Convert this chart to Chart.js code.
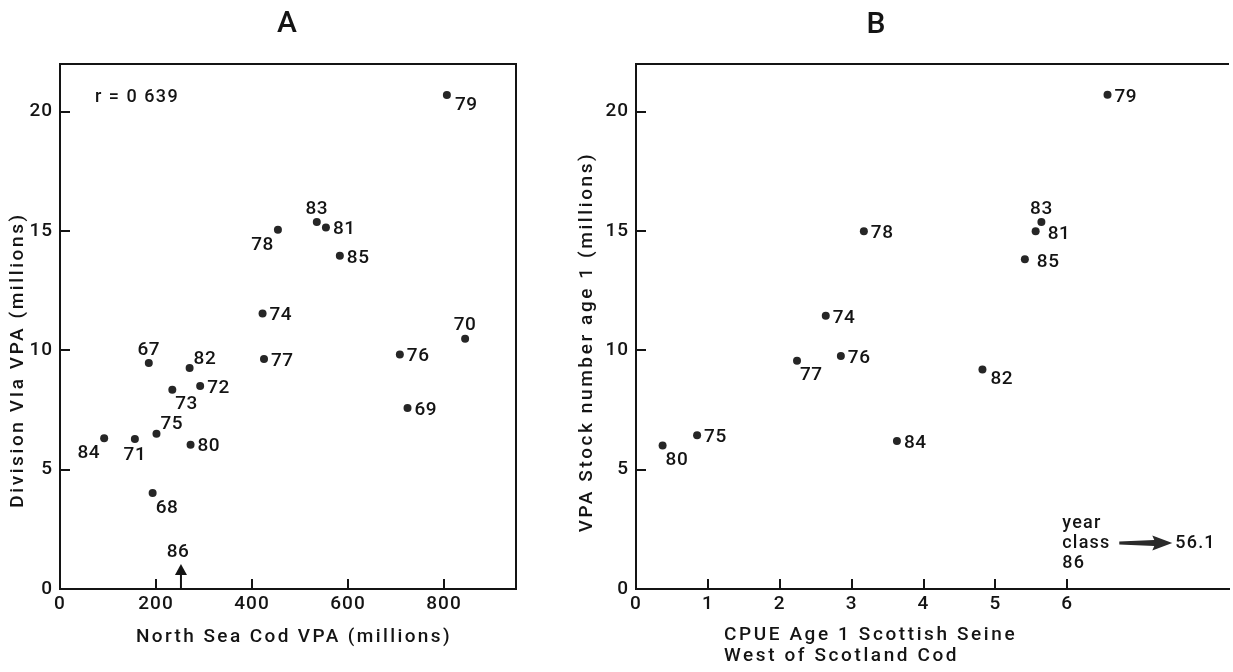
<!DOCTYPE html>
<html>
<head>
<meta charset="utf-8">
<title>Cod year-class strength: North Sea vs West of Scotland</title>
<script src="https://cdn.jsdelivr.net/npm/chart.js@4.4.1/dist/chart.umd.min.js"></script>
<style>
  html, body { margin: 0; padding: 0; background: #fff; }
  #wrap { position: relative; width: 1233px; height: 672px; overflow: hidden; background: #fff; }
  canvas { position: absolute; top: 0; }
  #chartA { left: 0; }
  #chartB { left: 560px; }
</style>
</head>
<body>
<div id="wrap">
  <canvas id="chartA" width="560" height="672"></canvas>
  <canvas id="chartB" width="673" height="672"></canvas>
</div>
<script>
// ---- Panel A: North Sea cod VPA (x) against Division VIa VPA (y), by year class ----
const yearsA        = ['79', '83', '81', '78', '85', '74', '77', '67', '82', '72', '73', '75', '84', '71', '80', '68', '70', '76', '69'];
const northSeaVPA   = [806, 535, 554, 454, 583, 422, 425, 185, 270, 292, 234, 201, 92, 156, 272, 193, 844, 708, 724];
const divisionVIa   = [20.7, 15.38, 15.15, 15.05, 13.96, 11.55, 9.64, 9.47, 9.26, 8.51, 8.35, 6.51, 6.32, 6.29, 6.05, 4.02, 10.49, 9.83, 7.59];
const labelSideA    = ['rb', 'a', 'r', 'lb', 'r', 'r', 'r', 'a', 'ra', 'r', 'br', 'ra', 'lb', 'b', 'r', 'br', 'a', 'r', 'r'];
const correlationA  = 'r = 0 639';
const yearClass86A  = 252;          // 1986 year class, North Sea VPA only
const xTicksA       = [0, 200, 400, 600, 800];

// ---- Panel B: West of Scotland CPUE at age 1 (x) against VPA stock number age 1 (y) ----
const yearsB        = ['79', '83', '81', '85', '82', '78', '74', '76', '77', '75', '80', '84'];
const cpueAge1      = [6.56, 5.64, 5.56, 5.41, 4.82, 3.17, 2.64, 2.85, 2.24, 0.85, 0.37, 3.63];
const stockAge1     = [20.71, 15.38, 14.99, 13.82, 9.2, 14.99, 11.45, 9.76, 9.57, 6.44, 6.01, 6.2];
const labelSideB    = ['r', 'a', 'r2', 'r2', 'rb', 'r', 'r', 'r', 'br', 'r', 'br', 'r'];
const yearClass86B  = '56.1';       // 1986 year class CPUE, far off the axis
const xTicksB       = [0, 1, 2, 3, 4, 5, 6];

const yTicks        = [0, 5, 10, 15, 20];

// Where a year-class label sits relative to its dot
const PLACE = {
  r:  { align: 'left',   dx: 7,  dy: 2 },
  r2: { align: 'left',   dx: 12, dy: 3 },
  rb: { align: 'left',   dx: 8,  dy: 10 },
  ra: { align: 'left',   dx: 4,  dy: -9 },
  a:  { align: 'center', dx: 0,  dy: -13 },
  b:  { align: 'center', dx: 0,  dy: 16 },
  br: { align: 'left',   dx: 3,  dy: 15 },
  lb: { align: 'right',  dx: -4, dy: 15 }
};

const FONT = "Roboto, 'Liberation Sans', Arial, sans-serif";
const WEIGHT = '500 ';
const INK = '#141414';
const TICK_LEN = 10;

function linearAxis(min, max, ticks, size, horizontal) {
  return {
    type: 'linear',
    min: min,
    max: max,
    afterBuildTicks: s => { s.ticks = ticks.map(v => ({ value: v })); },
    afterFit: s => { if (horizontal) { s.height = size; } else { s.width = size; } },
    grid: { display: false, drawTicks: false },
    border: { display: true, color: INK, width: 2 },
    ticks: {
      color: INK,
      font: { family: FONT, size: 19, weight: '500' },
      padding: horizontal ? 4 : 7,
      maxRotation: 0,
      callback: v => String(v)
    }
  };
}

function points(xs, ys) {
  return xs.map((x, i) => ({ x: x, y: ys[i] }));
}

// Tick marks point into the plot area
function drawInnerTicks(chart, xValues, yValues) {
  const ctx = chart.ctx;
  const ca = chart.chartArea;
  const xs = chart.scales.x, ys = chart.scales.y;
  ctx.save();
  ctx.fillStyle = INK;
  xValues.forEach(v => {
    const px = Math.round(xs.getPixelForValue(v));
    ctx.fillRect(px - 1, ca.bottom - TICK_LEN, 2, TICK_LEN);
  });
  yValues.forEach(v => {
    const py = Math.round(ys.getPixelForValue(v));
    ctx.fillRect(ca.left, py - 1, TICK_LEN, 2);
  });
  ctx.restore();
}

function drawPointLabels(chart, names, sides) {
  const ctx = chart.ctx;
  const meta = chart.getDatasetMeta(0);
  ctx.save();
  ctx.font = WEIGHT + '19px ' + FONT;
  ctx.fillStyle = INK;
  ctx.textBaseline = 'middle';
  ctx.letterSpacing = '0.5px';
  meta.data.forEach((pt, i) => {
    const p = PLACE[sides[i]];
    ctx.textAlign = p.align;
    ctx.fillText(names[i], pt.x + p.dx, pt.y + p.dy);
  });
  ctx.restore();
}

function drawText(ctx, text, x, y, opts) {
  ctx.save();
  ctx.font = WEIGHT + (opts.size || 19) + 'px ' + FONT;
  ctx.fillStyle = INK;
  ctx.textAlign = opts.align || 'center';
  ctx.textBaseline = 'middle';
  ctx.letterSpacing = (opts.spacing || 0) + 'px';
  ctx.translate(x, y);
  if (opts.rotate) ctx.rotate(opts.rotate);
  ctx.fillText(text, 0, 0);
  ctx.restore();
}

// Tick labels get a little tracking
const tracking = {
  id: 'tracking',
  beforeDraw(chart) { chart.ctx.letterSpacing = '1px'; },
  afterDraw(chart) { chart.ctx.letterSpacing = '0px'; }
};

const panelA = {
  id: 'panelA',
  afterDraw(chart) {
    const ctx = chart.ctx;
    const ca = chart.chartArea;
    const xs = chart.scales.x;

    // closing top and right sides of the frame
    ctx.save();
    ctx.strokeStyle = INK;
    ctx.lineWidth = 2;
    ctx.beginPath();
    ctx.moveTo(ca.left - 1, ca.top);
    ctx.lineTo(ca.right, ca.top);
    ctx.lineTo(ca.right, ca.bottom + 1);
    ctx.stroke();

    // 1986 year class: arrow pointing up from the x axis
    const ax = xs.getPixelForValue(yearClass86A);
    ctx.lineWidth = 2;
    ctx.beginPath();
    ctx.moveTo(ax, ca.bottom - 1);
    ctx.lineTo(ax, ca.bottom - 18);
    ctx.stroke();
    ctx.fillStyle = INK;
    ctx.beginPath();
    ctx.moveTo(ax, ca.bottom - 25);
    ctx.lineTo(ax - 6, ca.bottom - 14);
    ctx.lineTo(ax + 6, ca.bottom - 14);
    ctx.closePath();
    ctx.fill();
    ctx.restore();

    drawInnerTicks(chart, xTicksA, yTicks);

    drawText(ctx, '86', ax - 3, ca.bottom - 37, { size: 19, spacing: 0.5 });

    drawPointLabels(chart, yearsA, labelSideA);

    drawText(ctx, correlationA, 95, 97, { size: 18, align: 'left', spacing: 1.5 });
    drawText(ctx, 'A', (ca.left + ca.right) / 2 - 1, 24, { size: 30 });
    drawText(ctx, 'North Sea Cod VPA (millions)', 294, 637, { size: 19, spacing: 2.4 });
    drawText(ctx, 'Division VIa VPA (millions)', 18, 360, { size: 19, spacing: 2.6, rotate: -Math.PI / 2 });
  }
};

const panelB = {
  id: 'panelB',
  afterDraw(chart) {
    const ctx = chart.ctx;
    const ca = chart.chartArea;
    const xs = chart.scales.x;

    // top side of the frame
    ctx.save();
    ctx.strokeStyle = INK;
    ctx.lineWidth = 2;
    ctx.beginPath();
    ctx.moveTo(ca.left - 1, ca.top);
    ctx.lineTo(ca.right, ca.top);
    ctx.stroke();
    ctx.restore();

    drawInnerTicks(chart, xTicksB, yTicks);

    drawPointLabels(chart, yearsB, labelSideB);

    // 1986 year class lies far beyond the axis
    const x6 = xs.getPixelForValue(6);
    drawText(ctx, 'year', x6 - 5, ca.bottom - 66, { size: 18, align: 'left', spacing: 1.2 });
    drawText(ctx, 'class', x6 - 5, ca.bottom - 46, { size: 18, align: 'left', spacing: 1.2 });
    drawText(ctx, '86', x6 - 5, ca.bottom - 26, { size: 18, align: 'left', spacing: 1.2 });
    const y0 = ca.bottom - 46;
    const a0 = x6 + 52, a1 = x6 + 105;
    ctx.save();
    ctx.fillStyle = '#2a2a2a';
    ctx.beginPath();
    ctx.moveTo(a0, y0 - 1.5);
    ctx.lineTo(a1 - 18, y0 - 3);
    ctx.lineTo(a1 - 20, y0 - 7.5);
    ctx.lineTo(a1, y0);
    ctx.lineTo(a1 - 20, y0 + 7.5);
    ctx.lineTo(a1 - 18, y0 + 3);
    ctx.lineTo(a0, y0 + 1.5);
    ctx.closePath();
    ctx.fill();
    ctx.restore();
    drawText(ctx, yearClass86B, a1 + 3, y0, { size: 18, align: 'left', spacing: 1.2 });

    drawText(ctx, 'B', 316, 25, { size: 30 });
    drawText(ctx, 'CPUE Age 1 Scottish Seine', 164, 635, { size: 19, align: 'left', spacing: 2.6 });
    drawText(ctx, 'West of Scotland Cod', 164, 656, { size: 19, align: 'left', spacing: 2.6 });
    drawText(ctx, 'VPA Stock number age 1 (millions)', 27, 342, { size: 19, spacing: 2.6, rotate: -Math.PI / 2 });
  }
};

function scatterConfig(data, xAxis, yAxis, padding, plugin) {
  return {
    type: 'scatter',
    data: {
      datasets: [{
        data: data,
        pointRadius: 4,
        pointBackgroundColor: '#262626',
        pointBorderWidth: 0,
        showLine: false
      }]
    },
    options: {
      responsive: false,
      animation: false,
      devicePixelRatio: 1,
      events: [],
      layout: { padding: padding },
      scales: { x: xAxis, y: yAxis },
      plugins: { legend: { display: false }, tooltip: { enabled: false }, title: { display: false } }
    },
    plugins: [tracking, plugin]
  };
}

new Chart(document.getElementById('chartA'), scatterConfig(
  points(northSeaVPA, divisionVIa),
  linearAxis(0, 950, xTicksA, 83, true),
  linearAxis(0, 22, yTicks, 60, false),
  { top: 64, right: 44, left: 0, bottom: 0 },
  panelA
));

new Chart(document.getElementById('chartB'), scatterConfig(
  points(cpueAge1, stockAge1),
  linearAxis(0, 8.25, xTicksB, 83, true),
  linearAxis(0, 22, yTicks, 76, false),
  { top: 64, right: 0, left: 0, bottom: 0 },
  panelB
));
</script>
</body>
</html>
